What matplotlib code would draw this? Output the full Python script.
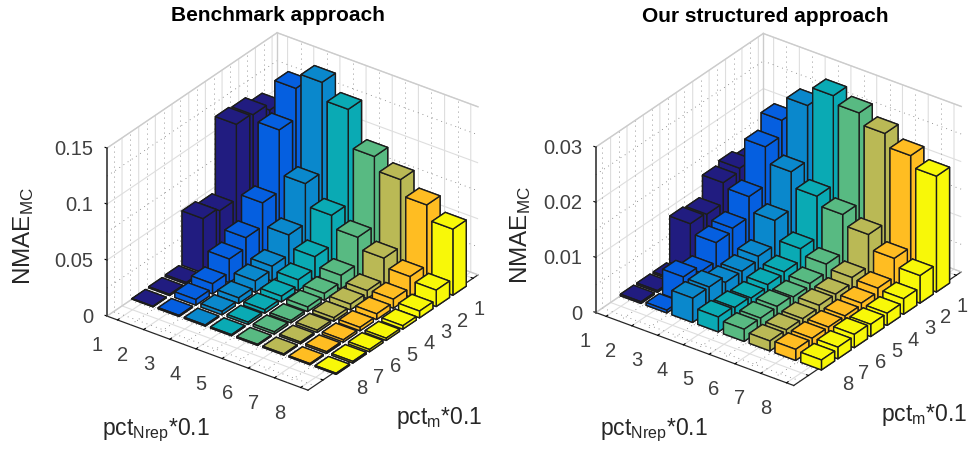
import numpy as np
import matplotlib
matplotlib.use('Agg')
import matplotlib.pyplot as plt

plt.rcParams['font.family'] = ['Liberation Sans', 'DejaVu Sans']
plt.rcParams['mathtext.default'] = 'regular'

# one colour per pct_Nrep column
col_colors = ['#211c80', '#055fe0', '#0a88cc', '#0aaab4', '#58ba82', '#bab955', '#ffbd22', '#f8f808']

x_ticks = [1, 2, 3, 4, 5, 6, 7, 8]
y_ticks = [1, 2, 3, 4, 5, 6, 7, 8]

# rows are pct_m 1..8, columns pct_Nrep 1..8
bench_values = [
    [.105, .133, .147, .1315, .098, .086, .072, .059],
    [.111, .106, .0667, .047, .036, .026, .018, .0146],
    [.1125, .051, .031, .020, .012, .007, .008, .006],
    [.0455, .030, .013, .0095, .006, .005, .005, .003],
    [.0485, .021, .010, .005, .004, .003, .003, .002],
    [.0015, .009, .005, .003, .002, .002, .002, .002],
    [.001, .005, .003, .002, .002, .0015, .0015, .0015],
    [.0005, .001, .001, .001, .001, .001, .001, .001],
]
ours_values = [
    [.0115, .0208, .0252, .0287, .0273, .0253, .023, .021],
    [.0124, .018, .0152, .0125, .0109, .009, .0064, .005],
    [.0118, .011, .0084, .005, .0039, .0032, .003, .0028],
    [.0081, .0073, .0039, .0028, .0024, .0022, .0023, .0022],
    [.0084, .0067, .0032, .0025, .002, .0022, .002, .0022],
    [.0003, .0033, .0032, .0021, .0023, .0018, .002, .0024],
    [.0003, .0045, .0044, .0024, .0022, .0018, .002, .0021],
    [.0003, .0005, .0044, .0027, .0022, .0018, .002, .0018],
]

FW, FH = 972, 453
bar_w = 0.8
xlim = (0.6, 8.28)
ylim = (9.9, -0.3)


def minor_grid(ax, zmax, zstep):
    # dotted minor lines, the 3d axis has no minor grid of its own
    style = dict(color='0.45', lw=0.6, ls=(0, (1, 5)), zorder=0.5)
    xs = np.arange(1.5, 8.3, 1.0)
    ys = np.arange(0.5, 9.6, 1.0)
    zs = np.arange(zstep / 2, zmax, zstep)
    for x in xs:
        ax.plot([x, x], [ylim[1], ylim[1]], [0, zmax], **style)
        ax.plot([x, x], ylim, [0, 0], **style)
    for y in ys:
        ax.plot([xlim[0], xlim[0]], [y, y], [0, zmax], **style)
        ax.plot(xlim, [y, y], [0, 0], **style)
    for z in zs:
        ax.plot(xlim, [ylim[1], ylim[1]], [z, z], **style)
        ax.plot([xlim[0], xlim[0]], ylim, [z, z], **style)


def box_edges(ax, zmax):
    # light back edges of the box, and the dark z axis on the left corner
    style = dict(color='0.8', lw=1.0, zorder=0.6)
    ax.plot(xlim, [ylim[1], ylim[1]], [zmax, zmax], **style)
    ax.plot([xlim[0], xlim[0]], ylim, [zmax, zmax], **style)
    ax.plot([xlim[0], xlim[0]], [ylim[1], ylim[1]], [0, zmax], **style)
    ax.plot(xlim, [ylim[1], ylim[1]], [0, 0], **style)
    ax.plot([xlim[0], xlim[0]], ylim, [0, 0], **style)
    ax.plot([xlim[0], xlim[0]], [ylim[0], ylim[0]], [0, zmax], color='#262626', lw=1.1, zorder=0.7)


def panel(left, bottom, w, zoom, values, zmax, zticks, zlabels, title, tx, ty):
    ax = plt.gcf().add_axes([left / FW, bottom / FH, w / FW, w / FH],
                            projection='3d', proj_type='ortho')
    ax.computed_zorder = False
    ax.view_init(elev=30, azim=-53.6)
    ax.set_box_aspect((249.7, 286.6, 194), zoom=zoom)
    ax.set_xlim(*xlim, view_margin=0)
    ax.set_ylim(*ylim, view_margin=0)
    ax.set_zlim(0, zmax, view_margin=0)

    ax.set_xticks(x_ticks)
    ax.set_xticklabels([str(t) for t in x_ticks])
    ax.set_yticks([0] + y_ticks + [9])
    ax.set_yticklabels([''] + [str(t) for t in y_ticks] + [''])
    ax.set_zticks(zticks)
    ax.set_zticklabels(zlabels)
    ax.tick_params(labelsize=14.5, labelcolor='#404040')
    ax.xaxis.set_tick_params(pad=6)
    ax.yaxis.set_tick_params(pad=5)
    ax.zaxis.set_tick_params(pad=-2.2)
    ax.zaxis.set_ticks_position('upper')

    for t in ax.get_xticklabels():
        t.set_ha('right')
        t.set_va('center')
    for t in ax.get_yticklabels():
        t.set_ha('left')
        t.set_va('center')
    for t in ax.get_zticklabels():
        t.set_ha('right')
        t.set_va('center')

    for axis in (ax.xaxis, ax.yaxis, ax.zaxis):
        axis.set_pane_color((1, 1, 1, 1))
        axis.pane.set_edgecolor('none')
        axis.line.set_color('#262626')
        axis.line.set_linewidth(0.9)
        axis._axinfo['grid']['color'] = '0.87'
        axis._axinfo['grid']['linewidth'] = 0.8
        axis._axinfo['tick']['inward_factor'] = 0.0
        axis._axinfo['tick']['outward_factor'] = 0.12
        axis._axinfo['tick']['linewidth'] = {True: 0.8, False: 0.5}
        axis._axinfo['tick']['color'] = '#262626'
    # the z line stays on the default corner whatever the tick side is
    ax.zaxis.line.set_visible(False)

    minor_grid(ax, zmax, zticks[1] - zticks[0])
    box_edges(ax, zmax)

    # back rows first so nearer bars paint over them
    for r, row in enumerate(values):
        for c, h in enumerate(row):
            ax.bar3d(x_ticks[c] - bar_w / 2, y_ticks[r] - bar_w / 2, 0, bar_w, bar_w, h,
                     color=col_colors[c], edgecolor='#1c1c1c', linewidth=1.0, shade=False)

    ax.set_title(title, fontsize=15, fontweight='bold', x=tx, y=ty)
    return ax


fig = plt.figure(figsize=(FW / 100, FH / 100), dpi=100)

panel(79.8, 28.8, 414.3, 1.0, bench_values, 0.15, [0, 0.05, 0.1, 0.15],
      ['0', '0.05', '0.1', '0.15'], 'Benchmark approach', 0.478, 1.035)
panel(569, 34, 408, 1.0, ours_values, 0.03, [0, 0.01, 0.02, 0.03],
      ['0', '0.01', '0.02', '0.03'], 'Our structured approach', 0.48, 1.035)

label_style = dict(color='#262626', va='baseline', rotation_mode='anchor')
fig.text(30 / FW, 1 - 285 / FH, r'NMAE$_{MC}$', rotation=90, ha='left', fontsize=17.5, **label_style)
fig.text(527 / FW, 1 - 284 / FH, r'NMAE$_{MC}$', rotation=90, ha='left', fontsize=17.5, **label_style)
fig.text(156 / FW, 1 - 435 / FH, r'pct$_{Nrep}$*0.1', ha='center', fontsize=16.5, **label_style)
fig.text(654 / FW, 1 - 435 / FH, r'pct$_{Nrep}$*0.1', ha='center', fontsize=16.5, **label_style)
fig.text(439 / FW, 1 - 424 / FH, r'pct$_{m}$*0.1', ha='center', fontsize=16.5, **label_style)
fig.text(924 / FW, 1 - 421 / FH, r'pct$_{m}$*0.1', ha='center', fontsize=16.5, **label_style)

fig.savefig('out.png', dpi=100)
